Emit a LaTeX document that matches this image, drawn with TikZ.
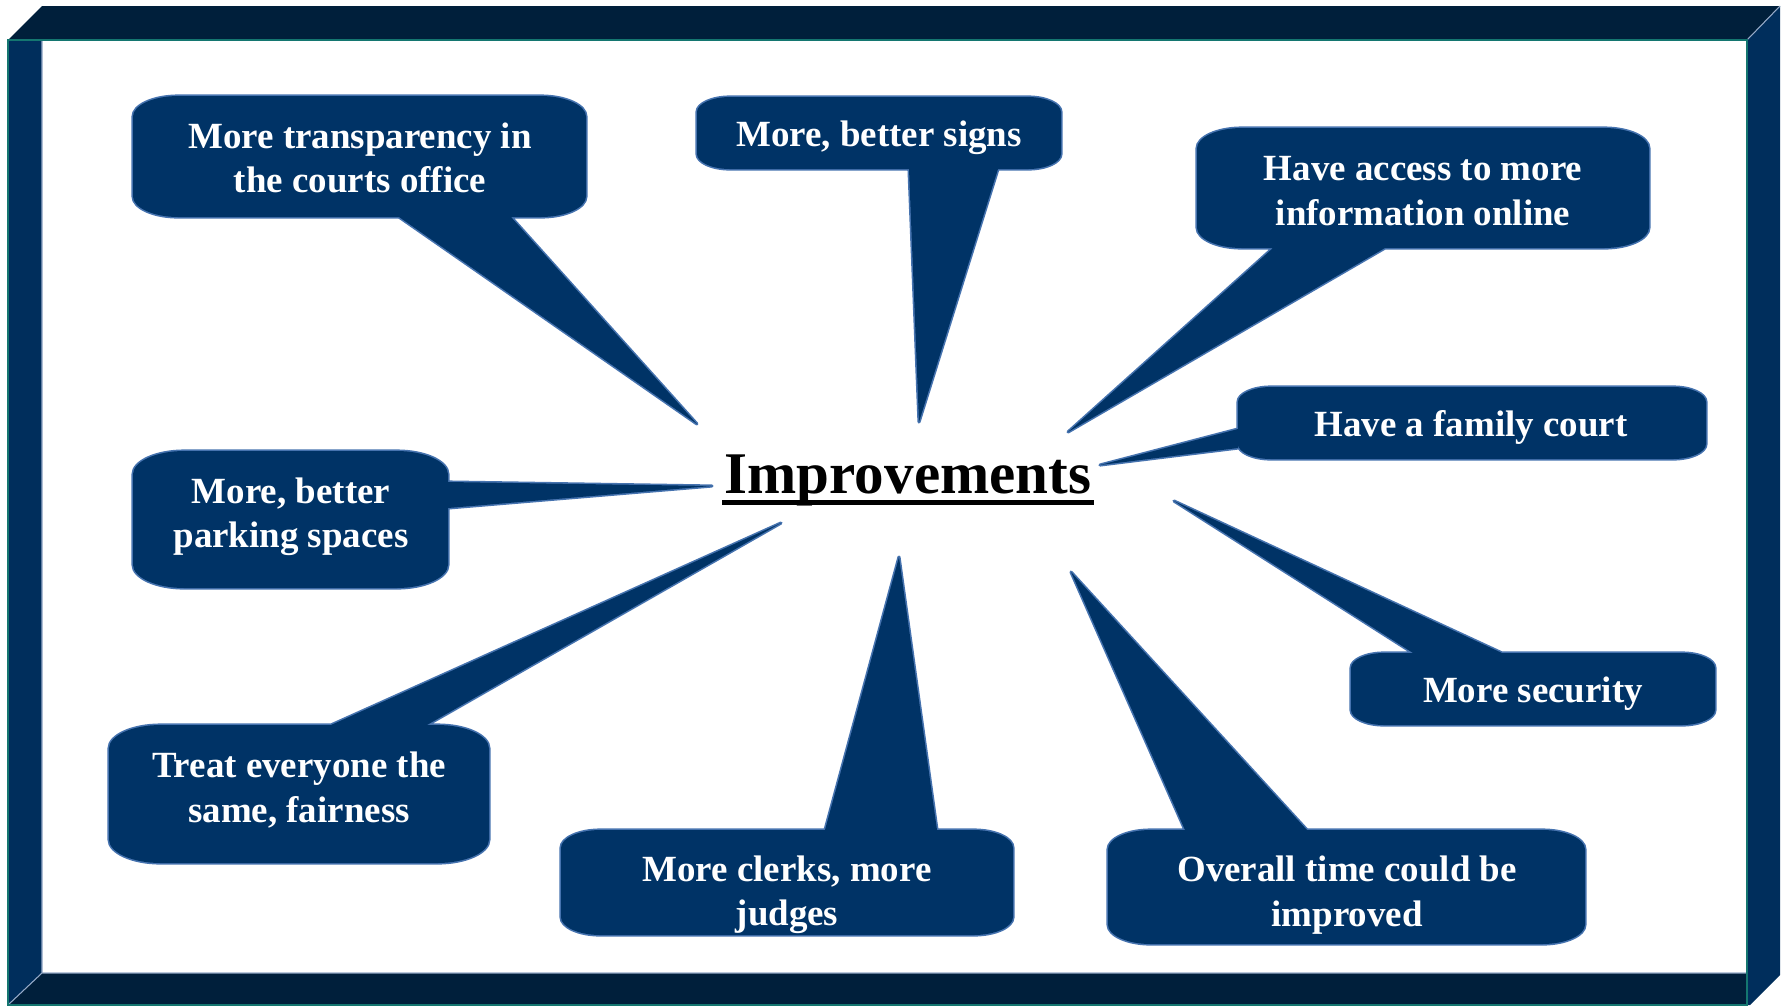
\documentclass[tikz,border=0pt]{standalone}
\usepackage{fontspec}
\setmainfont{Liberation Serif}
\definecolor{navy}{RGB}{0,31,59}
\definecolor{side}{RGB}{0,46,92}
\definecolor{edgeteal}{RGB}{20,118,112}
\definecolor{seam}{RGB}{150,170,200}
\definecolor{sea}{RGB}{0,51,102}
\definecolor{rim}{RGB}{70,115,175}
\usetikzlibrary{calc}
\tikzset{
  bubble/.style={fill=sea, preaction={draw=rim, line width=0.9pt, line join=round}},
  say/.style={text=white, font=\fontsize{10.5}{12.6}\selectfont\bfseries,
              align=center, inner sep=0pt},
  headline/.style={font=\fontsize{16.8}{20}\selectfont\bfseries, inner sep=0pt},
}
% box from (#1,#2) to (#3,#4), tail from base #5--#6 to tip #7
\newcommand{\bubble}[7]{%
  \pgfmathsetmacro\bubry{max(0.17*(#4-#2),15)}%
  \pgfmathsetmacro\bubrx{2.2*\bubry}%
  \path[bubble] ({#1+\bubrx},#2) -- ({#3-\bubrx},#2)
    .. controls ({#3-0.45*\bubrx},#2) and (#3,{#2+0.45*\bubry}) .. (#3,{#2+\bubry})
    -- (#3,{#4-\bubry})
    .. controls (#3,{#4-0.45*\bubry}) and ({#3-0.45*\bubrx},#4) .. ({#3-\bubrx},#4)
    -- ({#1+\bubrx},#4)
    .. controls ({#1+0.45*\bubrx},#4) and (#1,{#4-0.45*\bubry}) .. (#1,{#4-\bubry})
    -- (#1,{#2+\bubry})
    .. controls (#1,{#2+0.45*\bubry}) and ({#1+0.45*\bubrx},#2) .. ({#1+\bubrx},#2) -- cycle
    #5 -- #7 -- #6 -- cycle;
}

\begin{document}
\begin{tikzpicture}[x=0.01cm,y=-0.01cm]
  \useasboundingbox (0,0) rectangle (1787,1005);
  % frame
  \fill[navy] (42,6) -- (1780,6) -- (1747,40) -- (8,40) -- cycle;
  \fill[navy] (42,973) -- (1747,973) -- (1747,1005) -- (8,1005) -- cycle;
  \fill[side] (8,40) -- (42,40) -- (42,973) -- (8,1005) -- cycle;
  \fill[side] (1747,40) -- (1780,6) -- (1780,975) -- (1750,1005) -- (1747,1005) -- cycle;
  \draw[seam, line width=0.3pt] (1747,40) -- (1780,6) (42,973) -- (8,1005)
    (42,40) -- (42,973) -- (1747,973);
  \draw[edgeteal, line width=0.6pt] (8,40) rectangle (1747,1005);

  \node[headline, anchor=base] (title) at (908,493) {Improvements};
  \draw[line width=1.4pt] ([yshift=-0.95mm,xshift=-0.2mm]title.base west)
    -- ([yshift=-0.95mm,xshift=0.2mm]title.base east);

  \bubble{133}{96}{586}{217}{(399,217)}{(511,217)}{(697,424)}
  \node[say] (transp) at (360,158) {More transparency in\\the courts office};
  \bubble{697}{97}{1061}{169}{(909,169)}{(998,169)}{(919,422)}
  \node[say] (signs) at (879,138) {More, better signs};
  \bubble{1197}{128}{1649}{248}{(1273,248)}{(1385,248)}{(1068,432)}
  \node[say] (online) at (1423,191) {Have access to more\\information online};
  \bubble{1238}{387}{1706}{459}{(1238,429)}{(1238,448)}{(1100,465)}
  \node[say] (family) at (1471,427) {Have a family court};
  \bubble{133}{451}{448}{588}{(448,482)}{(448,508)}{(712,486)}
  \node[say] (parking) at (291,517) {More, better\\parking spaces};
  \bubble{109}{725}{489}{863}{(331,725)}{(427,725)}{(781,523)}
  \node[say] (fair) at (299,790) {Treat everyone the\\same, fairness};
  \bubble{561}{830}{1013}{935}{(825,830)}{(937,830)}{(899,557)}
  \node[say] (clerks) at (787,895) {More clerks, more\\judges};
  \bubble{1108}{830}{1585}{944}{(1185,830)}{(1307,830)}{(1071,572)}
  \node[say] (time) at (1347,895) {Overall time could be\\improved};
  \bubble{1351}{653}{1715}{725}{(1413,653)}{(1502,653)}{(1174,501)}
  \node[say] (secure) at (1533,694) {More security};
\end{tikzpicture}
\end{document}
